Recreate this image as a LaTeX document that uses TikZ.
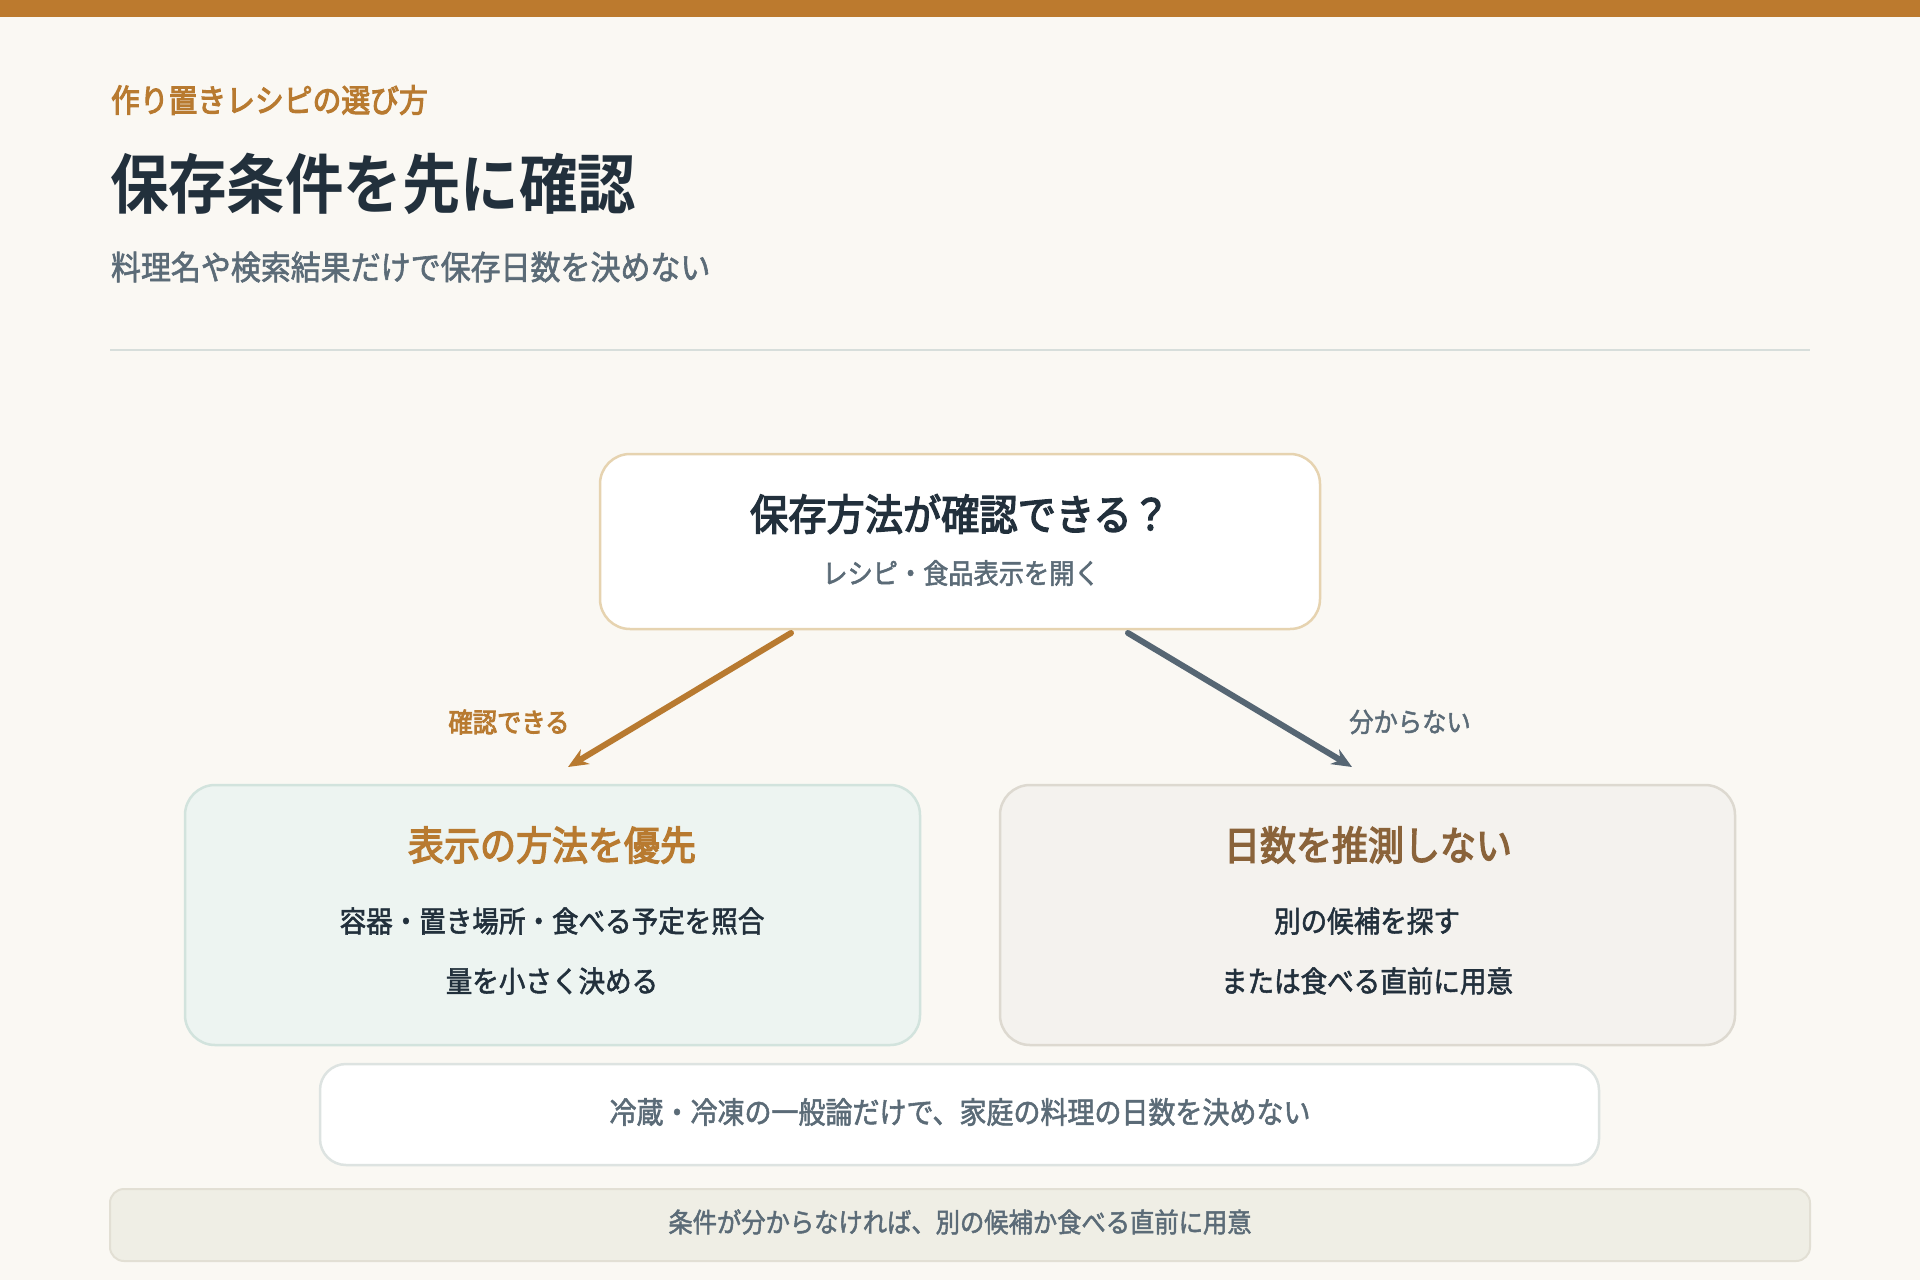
\documentclass[tikz,border=0pt]{standalone}
\usepackage{fontspec}
\usetikzlibrary{arrows.meta}
\newfontfamily\jp[FakeStretch=0.9,BoldFont={Noto Sans CJK JP Bold}]{Noto Sans CJK JP}
\newfontfamily\jpm[FakeStretch=0.9,FakeBold=1.8]{Noto Sans CJK JP}
\newfontfamily\jpb[FakeStretch=0.9,FakeBold=3.2]{Noto Sans CJK JP}
\definecolor{bgc}{HTML}{FAF8F3}
\definecolor{barc}{HTML}{BC7A2E}
\definecolor{orc}{HTML}{B87A30}
\definecolor{darkc}{HTML}{22303C}
\definecolor{grayc}{HTML}{5B6B77}
\definecolor{rulec}{HTML}{D7DEDB}
\definecolor{topbd}{HTML}{E6D3B0}
\definecolor{lfill}{HTML}{EDF4F1}
\definecolor{lbd}{HTML}{D2E3DD}
\definecolor{rfill}{HTML}{F4F2EE}
\definecolor{rbd}{HTML}{DDD9D0}
\definecolor{brc}{HTML}{8A633A}
\definecolor{wbd}{HTML}{DDE3E1}
\definecolor{bfill}{HTML}{EFEEE5}
\definecolor{bbd}{HTML}{E2DFD4}
\definecolor{arg}{HTML}{566673}
\newcommand{\fsz}[1]{\fontsize{#1}{#1}\selectfont}
\begin{document}
\begin{tikzpicture}[x=1pt,y=-1pt,
  txt/.style={inner sep=0pt,outer sep=0pt,font=\jpm},
  boxst/.style={rounded corners=#1,line width=2.5pt,inner sep=0pt},
  arr/.style={line width=6pt,line cap=round,-{Stealth[length=20pt,width=17pt]}}
]
\fill[bgc] (0,0) rectangle (1920,1280);
\useasboundingbox (0,0) rectangle (1920,1280);
\fill[barc] (0,0) rectangle (1920,17);
% header
\node[txt,anchor=west,text=orc,font=\jpb\fsz{32}] (kicker) at (111,100) {作り置きレシピの選び方};
\node[txt,anchor=west,text=darkc,font=\jp\bfseries\fsz{65}] (title) at (110,184) {保存条件を先に確認};
\node[txt,anchor=west,text=grayc,font=\jpm\fsz{33.3}] (sub) at (111,267) {料理名や検索結果だけで保存日数を決めない};
\draw[rulec,line width=2.5pt] (110,350) -- (1810,350);
% top box
\node[boxst=30pt,draw=topbd,fill=white,minimum width=720pt,minimum height=175pt] (q) at (960,541.5) {};
\node[txt,text=darkc,font=\jpb\fsz{42.5}] (qt) at (960,514) {保存方法が確認できる？};
\node[txt,text=grayc,font=\jpm\fsz{28}] (qs) at (961,573) {レシピ・食品表示を開く};
% left box
\node[boxst=30pt,draw=lbd,fill=lfill,minimum width=735pt,minimum height=260pt] (lb) at (552.5,915) {};
\node[txt,text=orc,font=\jpb\fsz{40}] (lt) at (552,845) {表示の方法を優先};
\node[txt,text=darkc,font=\jpm\fsz{29.5}] (l1) at (552,921) {容器・置き場所・食べる予定を照合};
\node[txt,text=darkc,font=\jpm\fsz{29.5}] (l2) at (552,981) {量を小さく決める};
% right box
\node[boxst=30pt,draw=rbd,fill=rfill,minimum width=735pt,minimum height=260pt] (rb) at (1367.5,915) {};
\node[txt,text=brc,font=\jpb\fsz{40}] (rt) at (1368,845) {日数を推測しない};
\node[txt,text=darkc,font=\jpm\fsz{29.5}] (r1) at (1367,921) {別の候補を探す};
\node[txt,text=darkc,font=\jpm\fsz{29.5}] (r2) at (1367,981) {または食べる直前に用意};
% arrows
\coordinate (la1) at (791,633);
\coordinate (la2) at (568,767);
\coordinate (ra1) at (1128,633);
\coordinate (ra2) at (1352,767);
\draw[arr,orc] (la1) -- (la2);
\draw[arr,arg] (ra1) -- (ra2);
\node[txt,text=orc,font=\jpb\fsz{27}] (ll) at (509,722) {確認できる};
\node[txt,text=grayc,font=\jpm\fsz{27}] (rl) at (1410,722) {分からない};
% note box
\node[boxst=26pt,draw=wbd,fill=white,minimum width=1279pt,minimum height=101pt] (nb) at (959.5,1114.5) {};
\node[txt,text=grayc,font=\jpm\fsz{30}] (nt) at (960,1112) {冷蔵・冷凍の一般論だけで、家庭の料理の日数を決めない};
% bottom bar
\node[boxst=14pt,line width=2pt,draw=bbd,fill=bfill,minimum width=1700pt,minimum height=72pt] (bb) at (960,1225) {};
\node[txt,text=grayc,font=\jpm\fsz{27}] (bt) at (960,1222) {条件が分からなければ、別の候補か食べる直前に用意};
\end{tikzpicture}
\end{document}
